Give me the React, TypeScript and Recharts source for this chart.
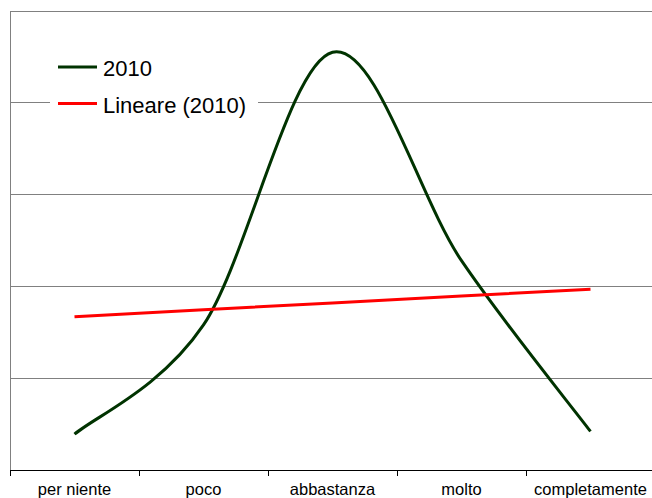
import React from 'react';
import { LineChart, Line, XAxis, YAxis, ReferenceLine, Legend } from 'recharts';

const categories = ['per niente', 'poco', 'abbastanza', 'molto', 'completamente'];
const values2010 = [3.9, 15.8, 45.5, 22.8, 4.2];
const trend2010 = [16.7, 17.45, 18.2, 18.95, 19.7];
const yTicks = [0, 10, 20, 30, 40, 50];
const xBoundaryTicks = [0, 1, 2, 3, 4, 5];
const xLabelTicks = [0.5, 1.5, 2.5, 3.5, 4.5];

const data = categories.map((c, i) => ({
  pos: i + 0.5,
  name: c,
  v2010: values2010[i],
  trend: trend2010[i],
}));

const FONT = '"Liberation Sans", Arial, Helvetica, sans-serif';

// Excel-like smoothed line (Catmull-Rom -> cubic Bezier)
function excelCurve(context: any) {
  let pts: number[][] = [];
  return {
    areaStart() {},
    areaEnd() {},
    lineStart() {
      pts = [];
    },
    point(x: number, y: number) {
      pts.push([+x, +y]);
    },
    lineEnd() {
      const n = pts.length;
      if (!n) return;
      context.moveTo(pts[0][0], pts[0][1]);
      for (let i = 0; i < n - 1; i++) {
        const p0 = pts[Math.max(i - 1, 0)];
        const p1 = pts[i];
        const p2 = pts[i + 1];
        const p3 = pts[Math.min(i + 2, n - 1)];
        context.bezierCurveTo(
          p1[0] + (p2[0] - p0[0]) / 6,
          p1[1] + (p2[1] - p0[1]) / 6,
          p2[0] - (p3[0] - p1[0]) / 6,
          p2[1] - (p3[1] - p1[1]) / 6,
          p2[0],
          p2[1]
        );
      }
    },
  };
}

const AxisTick = (props: any) => {
  const { x, y, payload } = props;
  const v = payload.value;
  if (Number.isInteger(v)) {
    return <line x1={x} x2={x} y1={y} y2={y + 6} stroke="#000" strokeWidth={1} shapeRendering="crispEdges" />;
  }
  return (
    <text x={x} y={y + 25} textAnchor="middle" fontSize={16.5} fontFamily={FONT} fill="#000">
      {categories[Math.floor(v)]}
    </text>
  );
};

const LegendContent = () => (
  <svg width={208} height={82}>
    <rect x={0} y={0} width={208} height={82} fill="#fff" />
    <line x1={8} x2={47} y1={27} y2={27} stroke="#003300" strokeWidth={3} />
    <text x={53} y={36} fontSize={22} fontFamily={FONT} fill="#000">2010</text>
    <line x1={8} x2={47} y1={63.5} y2={63.5} stroke="#ff0000" strokeWidth={3} />
    <text x={53} y={72.5} fontSize={22} fontFamily={FONT} fill="#000">Lineare (2010)</text>
  </svg>
);

export default function App() {
  return (
    <div style={{ position: 'absolute', left: 0, top: 0, width: 652, height: 498, overflow: 'hidden', background: '#fff' }}>
      <LineChart width={660} height={498} data={data} margin={{ top: 11, right: 5, bottom: 0, left: 0 }}>
        {yTicks.filter((t) => t > 0).map((t) => (
          <ReferenceLine
            key={t}
            y={t}
            stroke="#808080"
            strokeWidth={1}
            shapeRendering="crispEdges"
            ifOverflow="extendDomain"
          />
        ))}
        <XAxis
          dataKey="pos"
          type="number"
          domain={[0, 5]}
          ticks={[...xBoundaryTicks, ...xLabelTicks].sort((a, b) => a - b)}
          interval={0}
          height={28}
          tickSize={0}
          tickMargin={0}
          tickLine={false}
          axisLine={{ stroke: '#000', strokeWidth: 1, shapeRendering: 'crispEdges' }}
          tick={<AxisTick />}
        />
        <YAxis
          type="number"
          domain={[0, 50]}
          ticks={yTicks}
          width={10}
          tick={false}
          tickLine={false}
          axisLine={{ stroke: '#808080', strokeWidth: 1, shapeRendering: 'crispEdges' }}
        />
        <Legend
          layout="vertical"
          align="center"
          verticalAlign="middle"
          content={<LegendContent />}
          wrapperStyle={{ left: 50, top: 40, width: 208, height: 82 }}
        />
        <Line
          dataKey="v2010"
          name="2010"
          type={excelCurve as any}
          stroke="#003300"
          strokeWidth={3}
          dot={false}
          activeDot={false}
          isAnimationActive={false}
        />
        <Line
          dataKey="trend"
          name="Lineare (2010)"
          type="linear"
          stroke="#ff0000"
          strokeWidth={3}
          dot={false}
          activeDot={false}
          isAnimationActive={false}
        />
      </LineChart>
    </div>
  );
}
